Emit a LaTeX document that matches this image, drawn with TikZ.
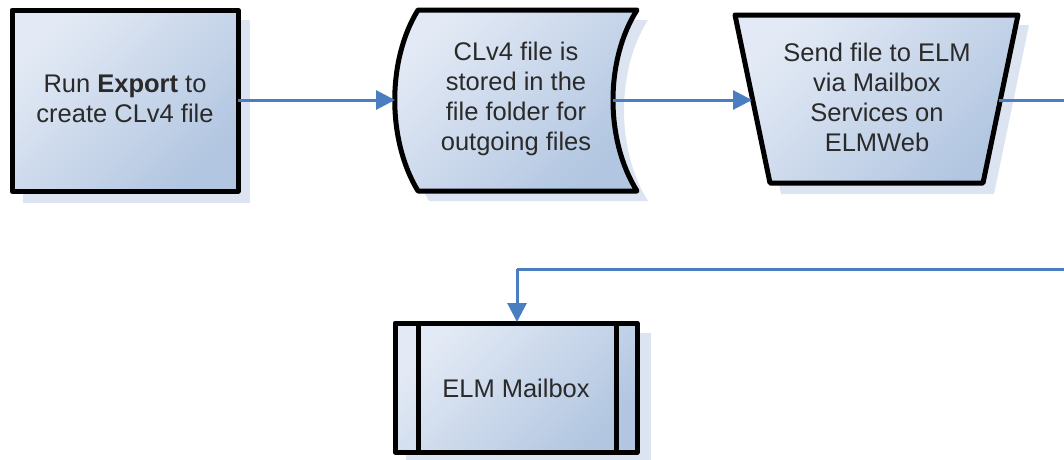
\documentclass[tikz,border=0pt]{standalone}
\usepackage{fontspec}
\setmainfont{Liberation Sans}
\usetikzlibrary{arrows.meta}
\definecolor{fillA}{HTML}{E3EAF5}
\definecolor{fillB}{HTML}{B2C6E1}
\definecolor{shadowc}{HTML}{DCE4F1}
\definecolor{linkc}{HTML}{4A7EC0}
\definecolor{txtc}{HTML}{2A2A2A}
\tikzset{
  box/.style={line width=5pt, draw=black, line join=round, top color=fillA, bottom color=fillB, shading angle=45},
  divider/.style={line width=5pt, draw=black},
  label/.style={text=txtc, font=\fontsize{25.5}{30}\selectfont, align=center, inner sep=0pt},
  link/.style={draw=linkc, line width=3pt, -{Triangle[length=19pt,width=19pt]}},
  linkplain/.style={draw=linkc, line width=3pt}
}
\begin{document}
\begin{tikzpicture}[x=1pt,y=-1pt]
\useasboundingbox (0,0) rectangle (1064,459);
% shadows
\fill[shadowc] (23,20) rectangle (250,203);
\fill[shadowc] (429,20) -- (648,20) .. controls (616,70) and (616,150) .. (648,201) -- (429,201) .. controls (398,150) and (398,70) .. (429,20) -- cycle;
\fill[shadowc] (746,25) -- (1029,25) -- (994,194) -- (781,194) -- cycle;
\fill[shadowc] (406,333) rectangle (651,470);
% box 1
\shadedraw[box] (12,10) rectangle (238,191);
\node[label] (t1) at (125,99) {Run \textbf{Export} to\\create CLv4 file};
\coordinate (b1e) at (238,100);
% shape 2
\shadedraw[box] (418,10) -- (637,10) .. controls (605,60) and (605,140) .. (637,191) -- (418,191) .. controls (387,140) and (387,60) .. (418,10) -- cycle;
\node[label] (t2) at (516,99) {CLv4 file is\\stored in the\\file folder for\\outgoing files};
\coordinate (s2w) at (395,100);
\coordinate (s2e) at (613,100);
% shape 3
\shadedraw[box] (735,15) -- (1018,15) -- (983,183) -- (770,183) -- cycle;
\node[label] (t3) at (877,97) {Send file to ELM\\via Mailbox\\Services on\\ELMWeb};
\coordinate (s3w) at (752,100);
\coordinate (s3e) at (999,100);
% box 4
\shadedraw[box] (395,323) rectangle (637,452);
\draw[divider] (418,323) -- (418,452);
\draw[divider] (616,323) -- (616,452);
\node[label] (t4) at (516,388) {ELM Mailbox};
\coordinate (b4n) at (517,322);
% connectors
\coordinate (off1) at (1090,100);
\coordinate (off2) at (1090,269);
\coordinate (bend) at (517,269);
\draw[link] (b1e) -- (s2w);
\draw[link] (s2e) -- (s3w);
\draw[linkplain] (s3e) -- (off1) -- (off2) -- (bend);
\draw[link] (bend) -- (b4n);
\end{tikzpicture}
\end{document}
